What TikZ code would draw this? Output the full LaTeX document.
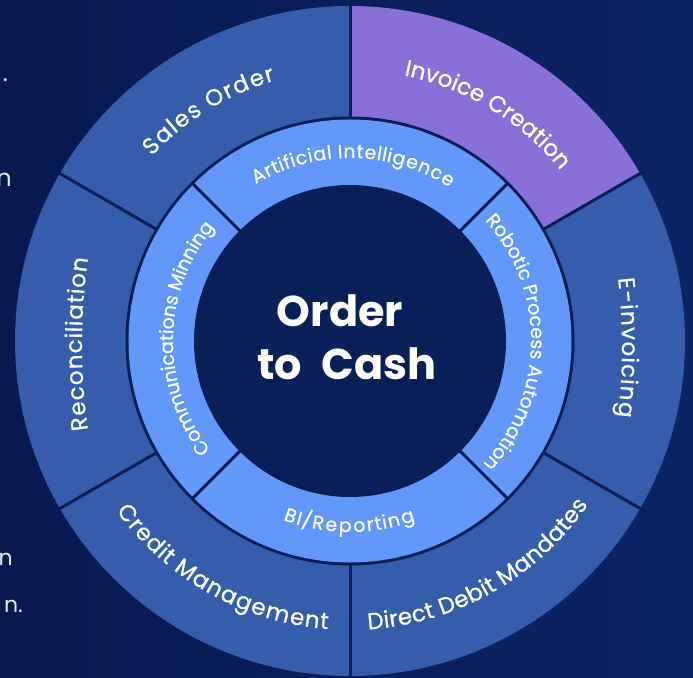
\documentclass[tikz,border=0pt]{standalone}
\usepackage{fontspec}
\setmainfont{Poppins}
\newfontfamily\ringfam[FakeBold=0.7]{Poppins}
\newfontfamily\innerfam[FakeBold=0.5]{Poppins}
\usepackage{tikz}
\usetikzlibrary{decorations.text,calc}
\definecolor{navybg}{RGB}{7,25,78}
\definecolor{navyright}{RGB}{11,37,99}
\definecolor{navycore}{RGB}{9,31,88}
\definecolor{ringblue}{RGB}{52,94,172}
\definecolor{ringpurple}{RGB}{137,112,216}
\definecolor{ringlight}{RGB}{97,152,250}
\definecolor{sepline}{RGB}{9,30,84}
\definecolor{sidetext}{RGB}{228,232,244}
\newcommand\ringfont{\ringfam\fontsize{23}{27}\selectfont}
\newcommand\innerfont{\innerfam\fontsize{19}{23}\selectfont}
\tikzset{
  outerlabel/.style={decorate,decoration={text effects along path,text={#1},
      text effects/.cd,text along path,fit text to path,
      characters={anchor=base,inner sep=0pt,text=white,font=\ringfont}}},
  innerlabel/.style={decorate,decoration={text effects along path,text={#1},
      text effects/.cd,text along path,fit text to path,
      characters={anchor=base,inner sep=0pt,text=white,font=\innerfont}}},
  sep/.style={draw=sepline,line width=3pt},
  corelabel/.style={text=white,font=\fontsize{43}{52}\selectfont\bfseries,anchor=base,inner sep=0pt},
  sidelabel/.style={text=sidetext,anchor=base east,inner sep=0pt,font=\fontsize{24}{28}\selectfont},
}

\begin{document}
\begin{tikzpicture}[x=1pt,y=1pt]
    \useasboundingbox (-350,-336) rectangle (343,341);
    \clip (-350,-336) rectangle (343,341);
    \shade[left color=navybg,right color=navyright] (-350,-336) rectangle (343,341);

    % cut-off text at the left edge
    \node[sidelabel] (dotA) at (-342,259) {.};
    \node[sidelabel] (fragA) at (-338,154) {n};
    \node[sidelabel,font=\fontsize{22}{26}\selectfont] (fragB) at (-337,-224) {n};
    \node[sidelabel,font=\fontsize{22}{26}\selectfont] (fragC) at (-327,-271) {n.};

    % outer ring
    \foreach \a/\c in {30/ringpurple,90/ringblue,150/ringblue,210/ringblue,270/ringblue,330/ringblue}{
        \pgfmathsetmacro\b{\a+60}
        \fill[\c] (\a:222) arc[start angle=\a,end angle=\b,radius=222] -- (\b:335)
            arc[start angle=\b,end angle=\a,radius=335] -- cycle;
    }
    \draw[sep] (0,0) circle (223);

    % inner ring and core
    \fill[ringlight] (0,0) circle (221.5);
    \fill[navycore] (0,0) circle (156);

    \foreach \a in {30,90,...,330}
        \draw[sep] (\a:223) -- (\a:340);
    \foreach \a in {45,135,225,315}
        \draw[sep] (\a:155) -- (\a:223);

    % outer labels
    \path[outerlabel={Sales Order}] (137:271) arc[start angle=137,end angle=106,radius=271];
    \path[outerlabel={Invoice Creation}] (78.5:271) arc[start angle=78.5,end angle=39,radius=271];
    \path[outerlabel={E-invoicing}] ([shift={(-345,-6)}]6.4:617) arc[start angle=6.4,end angle=-6.5,radius=617];
    \path[outerlabel={Direct Debit Mandates}] (273.6:289) arc[start angle=273.6,end angle=325.5,radius=289];
    \path[outerlabel={Credit Management}] (216:289) arc[start angle=216,end angle=265.6,radius=289];
    \path[outerlabel={Reconciliation}] ([shift={(349,-3)}]188:617) arc[start angle=188,end angle=172,radius=617];

    % inner labels
    \path[innerlabel={Artificial Intelligence}] (121:183) arc[start angle=121,end angle=57,radius=183];
    \path[innerlabel={Robotic Process Automation}] (41.8:181) arc[start angle=41.8,end angle=-42.8,radius=181];
    \path[innerlabel={BI/Reporting}] (249.5:191) arc[start angle=249.5,end angle=290,radius=191];
    \path[innerlabel={Communications Minning}] (218:177) arc[start angle=218,end angle=140,radius=177];

    \node[corelabel] (order) at (-10,14) {Order};
    \node[corelabel] (cash) at (-3,-38) {to\hspace{0.45em}Cash};
\end{tikzpicture}
\end{document}
